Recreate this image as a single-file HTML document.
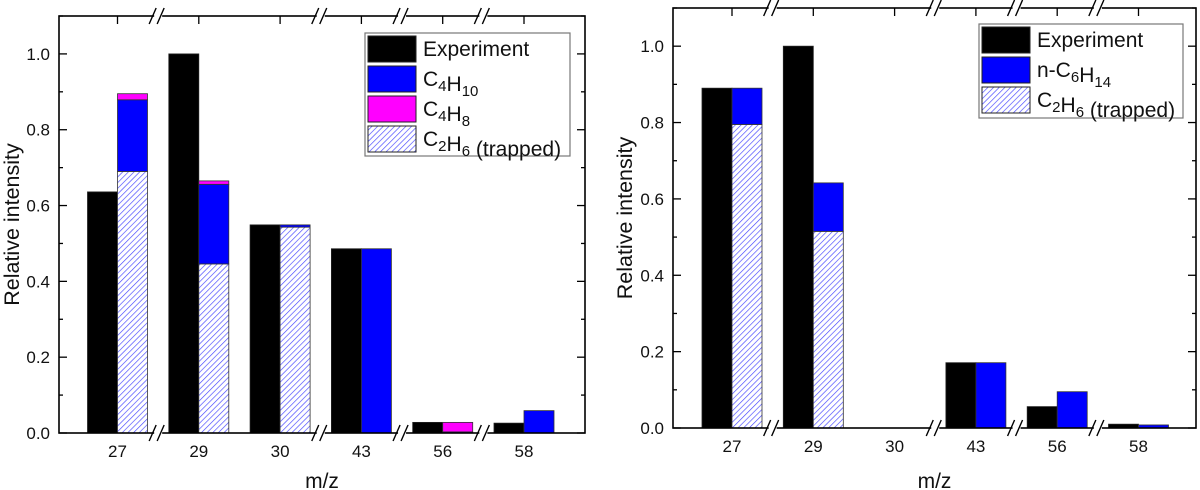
<!DOCTYPE html>
<html><head><meta charset="utf-8"><style>
body{margin:0;background:#fff;}
svg{display:block;font-family:"Liberation Sans",Arial,sans-serif;}
</style></head><body>
<svg id="chart" width="1200" height="490" viewBox="0 0 1200 490" xmlns="http://www.w3.org/2000/svg">
<defs>
<pattern id="hatch" width="4" height="4" patternUnits="userSpaceOnUse" patternTransform="rotate(45)">
<rect width="4" height="4" fill="#ffffff"/>
<line x1="0" y1="0" x2="0" y2="4" stroke="#4444ff" stroke-width="1.3"/>
</pattern>
</defs>
</svg>
<script>
const categories = ["27","29","30","43","56","58"];
const breaksAfter = [0,2,3,4];
const yTicks = [0,0.2,0.4,0.6,0.8,1.0];
const leftExp = [0.636,1.0,0.549,0.486,0.028,0.026];
const leftC2H6 = [0.69,0.446,0.543,0,0,0];
const leftC4H10 = [0.189,0.21,0.006,0.486,0.003,0.059];
const leftC4H8 = [0.016,0.009,0,0,0.025,0];
const rightExp = [0.89,1.0,0,0.171,0.056,0.01];
const rightC2H6 = [0.795,0.515,0,0,0,0];
const rightC6H14 = [0.095,0.127,0,0.171,0.095,0.008];

const svg = document.getElementById('chart');
const NS = 'http://www.w3.org/2000/svg';
function mk(tag, attrs, parent){
  const e = document.createElementNS(NS, tag);
  for (const k in attrs) e.setAttribute(k, attrs[k]);
  (parent||svg).appendChild(e);
  return e;
}

function panel(cfg){
  const g = mk('g', {});
  
  
  const yScale = v => cfg.y0 - v * (cfg.y0 - cfg.top) / 1.1;
  const xScale = i => cfg.x0 + i * cfg.step;
  const bw = 30;
  categories.forEach((c, i) => {
    const cx = xScale(i);
    if (cfg.exp[i] > 0) {
      const r = mk('rect', {x: cx - bw, y: yScale(cfg.exp[i]), width: bw, height: yScale(0) - yScale(cfg.exp[i]), fill: '#000', stroke: '#222', 'stroke-width': 0.8}, g);
      
      
    }
    let base = 0;
    cfg.stack.forEach(s => {
      const v = s.vals[i];
      if (v > 0) {
        const r = mk('rect', {x: cx, y: yScale(base + v), width: bw, height: yScale(base) - yScale(base + v), fill: s.fill, stroke: '#333', 'stroke-width': 0.8}, g);
        
        
      }
      base += v;
    });
  });
  const fr = mk('rect', {x: cfg.left, y: cfg.top, width: cfg.right - cfg.left, height: cfg.y0 - cfg.top, fill: 'none', stroke: '#000', 'stroke-width': 1.6}, g);
  
  
  for (let k = 0; k <= 11; k++) {
    const v = k / 10, y = yScale(v), len = (k % 2 === 0) ? 8 : 4;
    mk('line', {x1: cfg.left, x2: cfg.left + len, y1: y, y2: y, stroke: '#000', 'stroke-width': 1.3}, g);
    mk('line', {x1: cfg.right, x2: cfg.right - len, y1: y, y2: y, stroke: '#000', 'stroke-width': 1.3}, g);
  }
  yTicks.forEach(v => {
    const t = mk('text', {x: cfg.left - 9, y: yScale(v) + 6, 'text-anchor': 'end', 'font-size': 17, fill: '#111'}, g);
    t.textContent = v.toFixed(1);
    
    
  });
  categories.forEach((c, i) => {
    const x = xScale(i);
    mk('line', {x1: x, x2: x, y1: cfg.top, y2: cfg.top + 8, stroke: '#000', 'stroke-width': 1.3}, g);
    const t = mk('text', {x: x, y: cfg.y0 + 24, 'text-anchor': 'middle', 'font-size': 17, fill: '#111'}, g);
    t.textContent = c;
    
    
  });
  breaksAfter.forEach(i => {
    const bx = (xScale(i) + xScale(i + 1)) / 2;
    [cfg.top, cfg.y0].forEach(yy => {
      mk('rect', {x: bx - 4, y: yy - 2, width: 8, height: 4, fill: '#fff'}, g);
      mk('line', {x1: bx - 9, y1: yy + 8, x2: bx - 2, y2: yy - 8, stroke: '#000', 'stroke-width': 1.4}, g);
      mk('line', {x1: bx - 1, y1: yy + 8, x2: bx + 6, y2: yy - 8, stroke: '#000', 'stroke-width': 1.4}, g);
    });
  });
  const yt = mk('text', {x: 0, y: 0, 'text-anchor': 'middle', 'font-size': 21.5, fill: '#111', transform: 'translate(' + cfg.ytx + ',' + ((cfg.top + cfg.y0) / 2) + ') rotate(-90)'}, g);
  yt.textContent = 'Relative intensity';
  
  
  const xt = mk('text', {x: (cfg.left + cfg.right) / 2, y: 488, 'text-anchor': 'middle', 'font-size': 21, fill: '#111'}, g);
  xt.textContent = 'm/z';
  
  
  const L = cfg.legend;
  const lg = mk('g', {}, g);
  
  
  mk('rect', {x: L.x, y: L.y, width: L.w, height: L.h, fill: '#fff', stroke: '#777', 'stroke-width': 1.2}, lg);
  L.items.forEach((it, j) => {
    const ry = L.y + 3 + j * L.row;
    const sw = mk('rect', {x: L.x + 3, y: ry, width: 48, height: L.row - 4, fill: it.fill, stroke: '#222', 'stroke-width': 1}, lg);
    
    
    const t = mk('text', {x: L.x + 58, y: ry + L.row / 2 + 5, 'font-size': 21, fill: '#111'}, lg);
    t.innerHTML = it.label;
    
    
  });
}

const sub = s => '<tspan dy="5" font-size="15">' + s + '</tspan><tspan dy="-5"></tspan>';
panel({name: 'left-panel', left: 59, right: 585, top: 16, y0: 433, x0: 117.5, step: 81.3, ytx: 19,
  exp: leftExp,
  stack: [{key: 'c2h6', vals: leftC2H6, fill: 'url(#hatch)'}, {key: 'c4h10', vals: leftC4H10, fill: '#0000ff'}, {key: 'c4h8', vals: leftC4H8, fill: '#ff00ff'}],
  legend: {x: 365, y: 33, w: 205, h: 123, row: 30, items: [
    {fill: '#000', label: 'Experiment'},
    {fill: '#0000ff', label: 'C' + sub('4') + 'H' + sub('10')},
    {fill: '#ff00ff', label: 'C' + sub('4') + 'H' + sub('8')},
    {fill: 'url(#hatch)', label: 'C' + sub('2') + 'H' + sub('6') + ' (trapped)'}]}
});
panel({name: 'right-panel', left: 673, right: 1196, top: 8, y0: 428, x0: 732, step: 81.3, ytx: 632,
  exp: rightExp,
  stack: [{key: 'c2h6', vals: rightC2H6, fill: 'url(#hatch)'}, {key: 'n-c6h14', vals: rightC6H14, fill: '#0000ff'}],
  legend: {x: 979, y: 24, w: 204, h: 94, row: 30, items: [
    {fill: '#000', label: 'Experiment'},
    {fill: '#0000ff', label: 'n-C' + sub('6') + 'H' + sub('14')},
    {fill: 'url(#hatch)', label: 'C' + sub('2') + 'H' + sub('6') + ' (trapped)'}]}
});
</script>
</body></html>
